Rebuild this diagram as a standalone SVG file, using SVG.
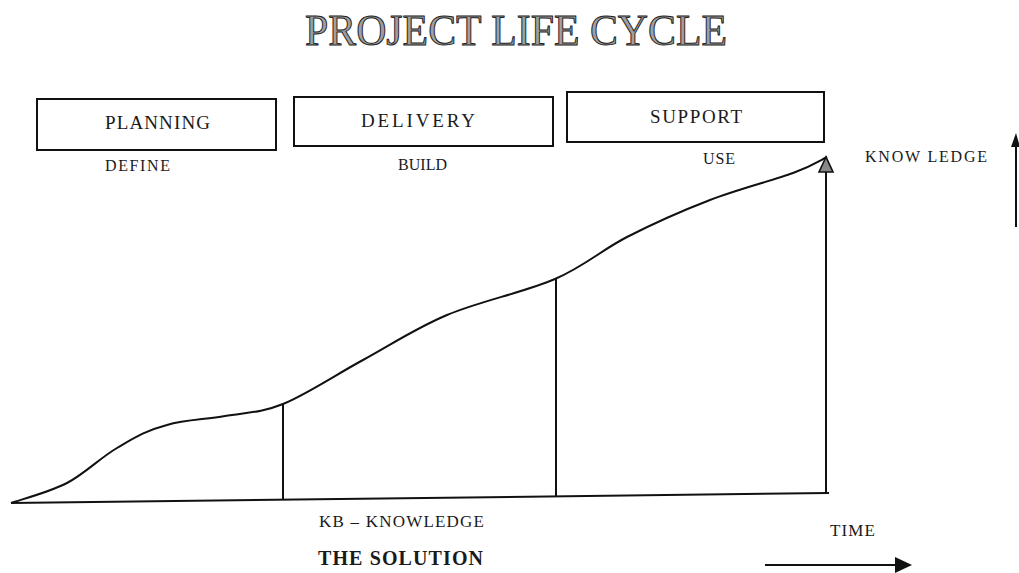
<svg xmlns="http://www.w3.org/2000/svg" width="1019" height="573" viewBox="0 0 1019 573">
  <style>
    .box { fill: none; stroke: #111; stroke-width: 2; }
    .ln { fill: none; stroke: #111; stroke-width: 2; }
    .t { font-family: "Liberation Serif", "Times New Roman", serif; fill: #1a1a1a; }
    .title { font-family: "Liberation Serif", "Times New Roman", serif; fill: #a0a0a0; stroke: #222; stroke-width: 1; }
    .bold { font-weight: bold; }
  </style>
  <rect x="0" y="0" width="1019" height="573" fill="#fff"/>

  <g id="title">
    <text class="title" x="305" y="45" font-size="44" textLength="422" lengthAdjust="spacingAndGlyphs">PROJECT LIFE CYCLE</text>
  </g>

  <g id="planning">
    <rect class="box" x="37" y="99" width="239" height="51"/>
    <text class="t" x="105" y="129" font-size="19" textLength="105" lengthAdjust="spacing">PLANNING</text>
    <text class="t" x="105" y="171" font-size="16" textLength="65" lengthAdjust="spacing">DEFINE</text>
  </g>

  <g id="delivery">
    <rect class="box" x="294" y="97" width="259" height="49"/>
    <text class="t" x="361" y="127" font-size="19" textLength="114" lengthAdjust="spacing">DELIVERY</text>
    <text class="t" x="398" y="170" font-size="16" textLength="49" lengthAdjust="spacing">BUILD</text>
  </g>

  <g id="support">
    <rect class="box" x="567" y="92" width="257" height="50"/>
    <text class="t" x="650" y="123" font-size="19" textLength="92" lengthAdjust="spacing">SUPPORT</text>
    <text class="t" x="703" y="164" font-size="16" textLength="32" lengthAdjust="spacing">USE</text>
  </g>

  <g id="knowledge-axis">
    <text class="t" x="865" y="162" font-size="16" textLength="122" lengthAdjust="spacing">KNOW LEDGE</text>
  </g>

  <g id="connectors">
    <path class="ln" d="M11,503 C20.3,499.7 49.3,492.2 67,483 C84.7,473.8 100.3,457.7 117,448 C133.7,438.3 144.8,430.8 167,425 C185,419.7 205.7,419.5 225,416 C244.3,412.5 260,413.3 283,404 C306,394.7 335.7,374.8 363,360 C390.3,345.2 415,328.5 447,315 C479,301.5 525,292 555,279 C585,266 601.2,250.2 627,237 C652.8,223.8 682.3,210.7 710,200 C737.7,189.3 773.5,180.2 793,173 C812.5,165.8 821.3,159.7 827,157"/>
    <path class="ln" d="M11,503 L829,493"/>
    <path class="ln" d="M283,404 L283,500"/>
    <path class="ln" d="M556,279 L556,497"/>
    <path class="ln" d="M826,493 L826,170"/>
    <polygon points="826,157 819,172 833,172" fill="#888" stroke="#111" stroke-width="1.6"/>
    <path class="ln" d="M1016,144 L1016,227"/>
    <polygon points="1016,133 1011,147 1020,147" fill="#111"/>
    <path class="ln" d="M765,565 L898,565"/>
    <polygon points="912,565 895,557 895,573" fill="#111"/>
  </g>

  <g id="labels">
    <text class="t" x="319" y="527" font-size="17" textLength="165" lengthAdjust="spacing">KB – KNOWLEDGE</text>
    <text class="t" x="830" y="536" font-size="17" textLength="45" lengthAdjust="spacing">TIME</text>
    <text class="t bold" x="318" y="565" font-size="20" textLength="165" lengthAdjust="spacing">THE SOLUTION</text>
  </g>
</svg>
